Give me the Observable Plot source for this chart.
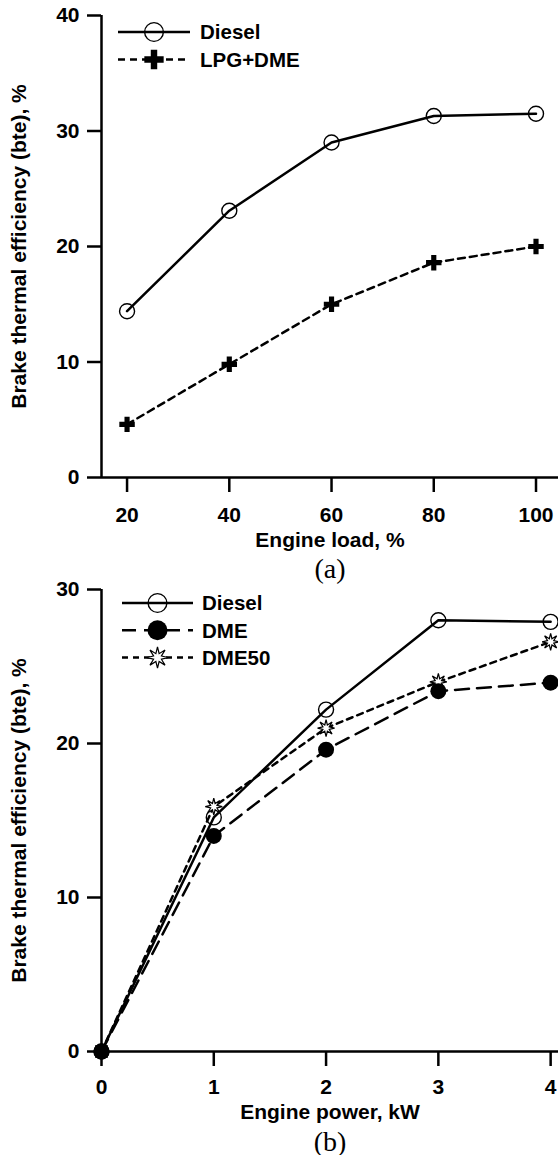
<!DOCTYPE html>
<html>
<head>
<meta charset="utf-8">
<script src="https://cdn.jsdelivr.net/npm/d3@7"></script>
<script src="https://cdn.jsdelivr.net/npm/@observablehq/plot@0.6"></script>
<style>
  html, body { margin: 0; padding: 0; background: #fff; }
  #fig { position: relative; width: 558px; height: 1155px; overflow: hidden; }
  #fig > svg { position: absolute; left: 0; }
</style>
</head>
<body>
<div id="fig"></div>
<script>
// ---- Panel (a): brake thermal efficiency vs engine load ----
const loadPct = [20, 40, 60, 80, 100];
const bteDieselLoad = [14.4, 23.1, 29.0, 31.3, 31.5];
const bteLpgDme = [4.6, 9.8, 15.0, 18.6, 20.0];
const loadTicks = [20, 40, 60, 80, 100];
const bteTicksA = [0, 10, 20, 30, 40];

// ---- Panel (b): brake thermal efficiency vs engine power ----
const powerKW = [0, 1, 2, 3, 4];
const bteDieselPower = [0, 15.2, 22.2, 28.0, 27.9];
const bteDme = [0, 14.0, 19.6, 23.4, 23.95];
const bteDme50 = [0, 15.9, 21.0, 24.0, 26.6];
const powerTicks = [0, 1, 2, 3, 4];
const bteTicksB = [0, 10, 20, 30];

const seriesNamesA = ["Diesel", "LPG+DME"];
const seriesNamesB = ["Diesel", "DME", "DME50"];

const rows = (xs, ys) => xs.map((x, i) => ({x, y: ys[i]}));

// eight-pointed open starburst used for DME50
const starburst = {
  draw(context, size) {
    const R = Math.sqrt(size / Math.PI), r = R * 0.4;
    for (let k = 0; k < 16; ++k) {
      const a = (k * Math.PI) / 8 - Math.PI / 2;
      const rad = k % 2 ? r : R;
      const px = rad * Math.cos(a), py = rad * Math.sin(a);
      k ? context.lineTo(px, py) : context.moveTo(px, py);
    }
    context.closePath();
  }
};

const styles = {
  open:   {symbol: "circle", fill: "none", stroke: "black", strokeWidth: 1.4, r: 7.5, dash: null},
  plus:   {symbol: "cross", fill: "black", stroke: "none", strokeWidth: 0, r: 6.5, dash: "7,5"},
  solid:  {symbol: "circle", fill: "black", stroke: "none", strokeWidth: 0, r: 8, dash: "14,8"},
  star:   {symbol: starburst, fill: "white", stroke: "black", strokeWidth: 1.2, r: 8.5, dash: "6,5"}
};

function lineMark(data, st) {
  return Plot.line(data, {x: "x", y: "y", stroke: "black", strokeWidth: 2.5, strokeDasharray: st.dash ?? undefined});
}
function dotMark(data, st) {
  return Plot.dot(data, {x: "x", y: "y", symbol: st.symbol, r: st.r, fill: st.fill, stroke: st.stroke, strokeWidth: st.strokeWidth});
}

// legend drawn as a custom mark in the SVG's pixel space
function legend(names, stylesList, {x0, x1, xText, yStart, rowGap}) {
  return () => {
    const g = d3.create("svg:g");
    names.forEach((name, i) => {
      const st = stylesList[i];
      const y = yStart + i * rowGap;
      const cx = (x0 + x1) / 2;
      g.append("line")
        .attr("x1", x0).attr("x2", x1).attr("y1", y).attr("y2", y)
        .attr("stroke", "black").attr("stroke-width", 2.5)
        .attr("stroke-dasharray", st.dash);
      const type = st.symbol === "circle" ? d3.symbolCircle : st.symbol === "cross" ? d3.symbolCross : st.symbol;
      const rr = st.r * 1.25;
      g.append("path")
        .attr("transform", `translate(${cx},${y})`)
        .attr("d", d3.symbol(type, Math.PI * rr * rr)())
        .attr("fill", st.fill).attr("stroke", st.stroke).attr("stroke-width", st.strokeWidth || null);
      g.append("text")
        .attr("x", xText).attr("y", y).attr("dy", "0.36em")
        .attr("text-anchor", "start")
        .attr("font-size", 20.5).attr("font-weight", "bold")
        .text(name);
    });
    return g.node();
  };
}

const baseStyle = {
  fontFamily: "'Liberation Sans', Arial, Helvetica, sans-serif",
  fontSize: "21px",
  fontWeight: "bold",
  background: "transparent",
  color: "black",
  overflow: "visible"
};

function titles(xTitle, panel, dyTitle, dyPanel) {
  return [
    Plot.text([xTitle], {text: d => d, frameAnchor: "bottom", dy: dyTitle, fontSize: 21, fontWeight: "bold"}),
    Plot.text([panel], {text: d => d, frameAnchor: "bottom", dy: dyPanel, fontSize: 28, fontWeight: "normal",
      fontFamily: "'Liberation Serif', 'Times New Roman', serif"}),
    Plot.text(["Brake thermal efficiency (bte), %"], {text: d => d, frameAnchor: "left", textAnchor: "middle",
      rotate: -90, dx: -82, fontSize: 21, fontWeight: "bold"})
  ];
}

// ----- Panel (a) -----
const xDomainA = [15, 104.4];
const yDomainA = [0, 40];
const dA1 = rows(loadPct, bteDieselLoad);
const dA2 = rows(loadPct, bteLpgDme);

const plotA = Plot.plot({
  width: 558, height: 600,
  marginTop: 15, marginBottom: 123, marginLeft: 101, marginRight: 0,
  style: baseStyle,
  x: {domain: xDomainA, label: null},
  y: {domain: yDomainA, label: null},
  marks: [
    Plot.axisX({ticks: loadTicks, tickFormat: "d", tickSize: 15, tickPadding: 15, strokeWidth: 2.5, label: null}),
    Plot.axisY({ticks: bteTicksA, tickFormat: "d", tickSize: 14, tickPadding: 8, strokeWidth: 2.5, label: null}),
    Plot.ruleX([xDomainA[0]], {stroke: "black", strokeWidth: 2.5}),
    Plot.ruleY([yDomainA[0]], {stroke: "black", strokeWidth: 2.5}),
    lineMark(dA1, styles.open),
    lineMark(dA2, styles.plus),
    dotMark(dA1, styles.open),
    dotMark(dA2, styles.plus),
    legend(seriesNamesA, [styles.open, styles.plus], {x0: 118, x1: 190, xText: 200, yStart: 32, rowGap: 27.5}),
    ...titles("Engine load, %", "(a)", 69, 100)
  ]
});
plotA.style.top = "0px";

// ----- Panel (b) -----
const xDomainB = [0, 4.07];
const yDomainB = [0, 30];
const dB1 = rows(powerKW, bteDieselPower);
const dB2 = rows(powerKW, bteDme);
const dB3 = rows(powerKW, bteDme50);

const plotB = Plot.plot({
  width: 558, height: 595,
  marginTop: 29, marginBottom: 104, marginLeft: 101, marginRight: 0,
  style: baseStyle,
  x: {domain: xDomainB, label: null},
  y: {domain: yDomainB, label: null},
  marks: [
    Plot.axisX({ticks: powerTicks, tickFormat: "d", tickSize: 15, tickPadding: 13, strokeWidth: 2.5, label: null}),
    Plot.axisY({ticks: bteTicksB, tickFormat: "d", tickSize: 14, tickPadding: 8, strokeWidth: 2.5, label: null}),
    Plot.ruleX([xDomainB[0]], {stroke: "black", strokeWidth: 2.5}),
    Plot.ruleY([yDomainB[0]], {stroke: "black", strokeWidth: 2.5}),
    lineMark(dB3, styles.star),
    lineMark(dB2, styles.solid),
    lineMark(dB1, styles.open),
    dotMark(dB1, styles.open),
    dotMark(dB3, styles.star),
    dotMark(dB2, styles.solid),
    legend(seriesNamesB, [styles.open, styles.solid, styles.star], {x0: 122, x1: 193, xText: 202, yStart: 43, rowGap: 27.3}),
    ...titles("Engine power, kW", "(b)", 67, 99)
  ]
});
plotB.style.top = "560px";

document.getElementById("fig").append(plotA, plotB);
</script>
</body>
</html>
